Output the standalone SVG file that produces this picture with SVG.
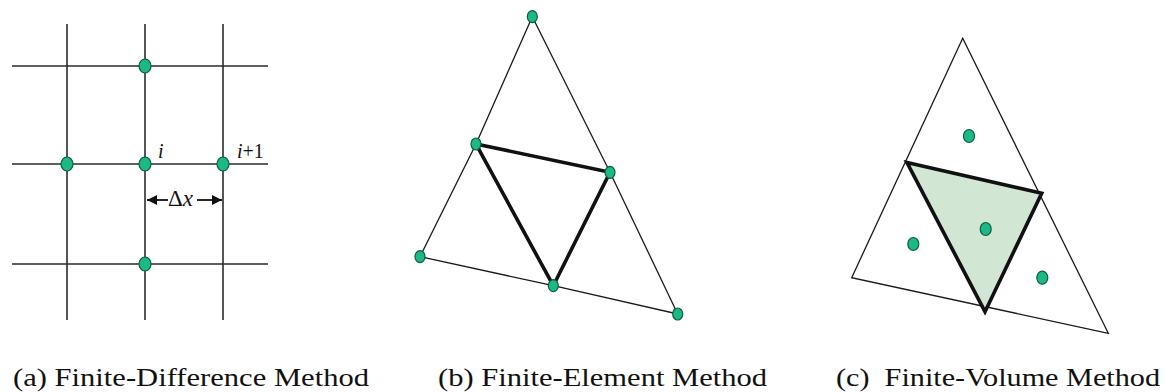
<svg xmlns="http://www.w3.org/2000/svg" width="1165" height="392" viewBox="0 0 1165 392">
<style>
.grid{stroke:#2b2b2b;stroke-width:1.6;fill:none}
.thin{stroke:#1a1a1a;stroke-width:1.3;fill:none;stroke-linejoin:miter}
.thick{stroke:#111;stroke-width:3.6;stroke-linejoin:miter}
.dot{fill:#1cb886;stroke:#0b5e42;stroke-width:1.2}
.lbl{font-family:"Liberation Serif","Times New Roman",serif;fill:#111}
.cap{font-family:"Liberation Serif","Times New Roman",serif;font-size:25px;fill:#111}
</style>
<defs>
<marker id="ah" viewBox="0 0 10 10" refX="10" refY="5" markerWidth="10" markerHeight="10" markerUnits="userSpaceOnUse" orient="auto-start-reverse">
<path d="M0,0 L10,5 L0,10 z" fill="#111"/>
</marker>
</defs>
<rect width="1165" height="392" fill="#fff"/>

<g id="connectors">
<g id="grid-a">
<line class="grid" x1="67" y1="24" x2="67" y2="320"/>
<line class="grid" x1="145" y1="24" x2="145" y2="320"/>
<line class="grid" x1="223" y1="24" x2="223" y2="320"/>
<line class="grid" x1="12" y1="66" x2="268" y2="66"/>
<line class="grid" x1="12" y1="164" x2="268" y2="164"/>
<line class="grid" x1="12" y1="264" x2="268" y2="264"/>
<line x1="168" y1="200" x2="147" y2="200" stroke="#111" stroke-width="1.8" marker-end="url(#ah)"/>
<line x1="197" y1="200" x2="222" y2="200" stroke="#111" stroke-width="1.8" marker-end="url(#ah)"/>
</g>
<g id="mesh-b">
<polyline class="thin" points="420,256.7 476,144 532.3,16.7 610,172.3 677.7,314 553.3,285.7 420,256.7"/>
<polygon class="thick" style="fill:none" points="476,144 610,172.3 553.3,285.7"/>
</g>
<g id="mesh-c">
<polygon class="thin" points="962.7,38.3 851.7,277.7 1108.3,333.3"/>
<polygon class="thick" style="fill:#d2e7d3" points="907,162.5 1041.7,193.3 985,311.7"/>
</g>
</g>

<g id="node-a-top"><ellipse class="dot" cx="145" cy="66" rx="6" ry="7"/></g>
<g id="node-a-left"><ellipse class="dot" cx="67" cy="164" rx="6" ry="7"/></g>
<g id="node-a-i"><ellipse class="dot" cx="145" cy="164" rx="6" ry="7"/></g>
<g id="node-a-i1"><ellipse class="dot" cx="223" cy="164" rx="6" ry="7"/></g>
<g id="node-a-bottom"><ellipse class="dot" cx="145" cy="264" rx="6" ry="7"/></g>
<g id="labels-a">
<text class="lbl" x="158" y="158" style="font-size:20px;font-style:italic">i</text>
<text class="lbl" x="237" y="158" style="font-size:20px"><tspan style="font-style:italic">i</tspan>+1</text>
<text class="lbl" x="168" y="206" style="font-size:23px">Δ<tspan style="font-style:italic">x</tspan></text>
</g>

<g id="node-b-top"><ellipse class="dot" cx="532.3" cy="16.7" rx="5" ry="6"/></g>
<g id="node-b-lm"><ellipse class="dot" cx="476" cy="144" rx="5" ry="6"/></g>
<g id="node-b-rm"><ellipse class="dot" cx="610" cy="172.3" rx="5" ry="6"/></g>
<g id="node-b-bl"><ellipse class="dot" cx="420" cy="256.7" rx="5" ry="6"/></g>
<g id="node-b-bm"><ellipse class="dot" cx="553.3" cy="285.7" rx="5" ry="6"/></g>
<g id="node-b-br"><ellipse class="dot" cx="677.7" cy="314" rx="5" ry="6"/></g>

<g id="node-c-top"><ellipse class="dot" cx="969" cy="136" rx="5.5" ry="6.5"/></g>
<g id="node-c-center"><ellipse class="dot" cx="985.7" cy="229" rx="5.5" ry="6.5"/></g>
<g id="node-c-left"><ellipse class="dot" cx="913.3" cy="244" rx="5.5" ry="6.5"/></g>
<g id="node-c-right"><ellipse class="dot" cx="1042.3" cy="277.7" rx="5.5" ry="6.5"/></g>

<g id="captions">
<text class="cap" x="13" y="386" textLength="356" lengthAdjust="spacingAndGlyphs">(a) Finite-Difference Method</text>
<text class="cap" x="438" y="386" textLength="329" lengthAdjust="spacingAndGlyphs">(b) Finite-Element Method</text>
<text class="cap" x="836" y="386" textLength="324" lengthAdjust="spacingAndGlyphs" xml:space="preserve">(c)  Finite-Volume Method</text>
</g>
</svg>
